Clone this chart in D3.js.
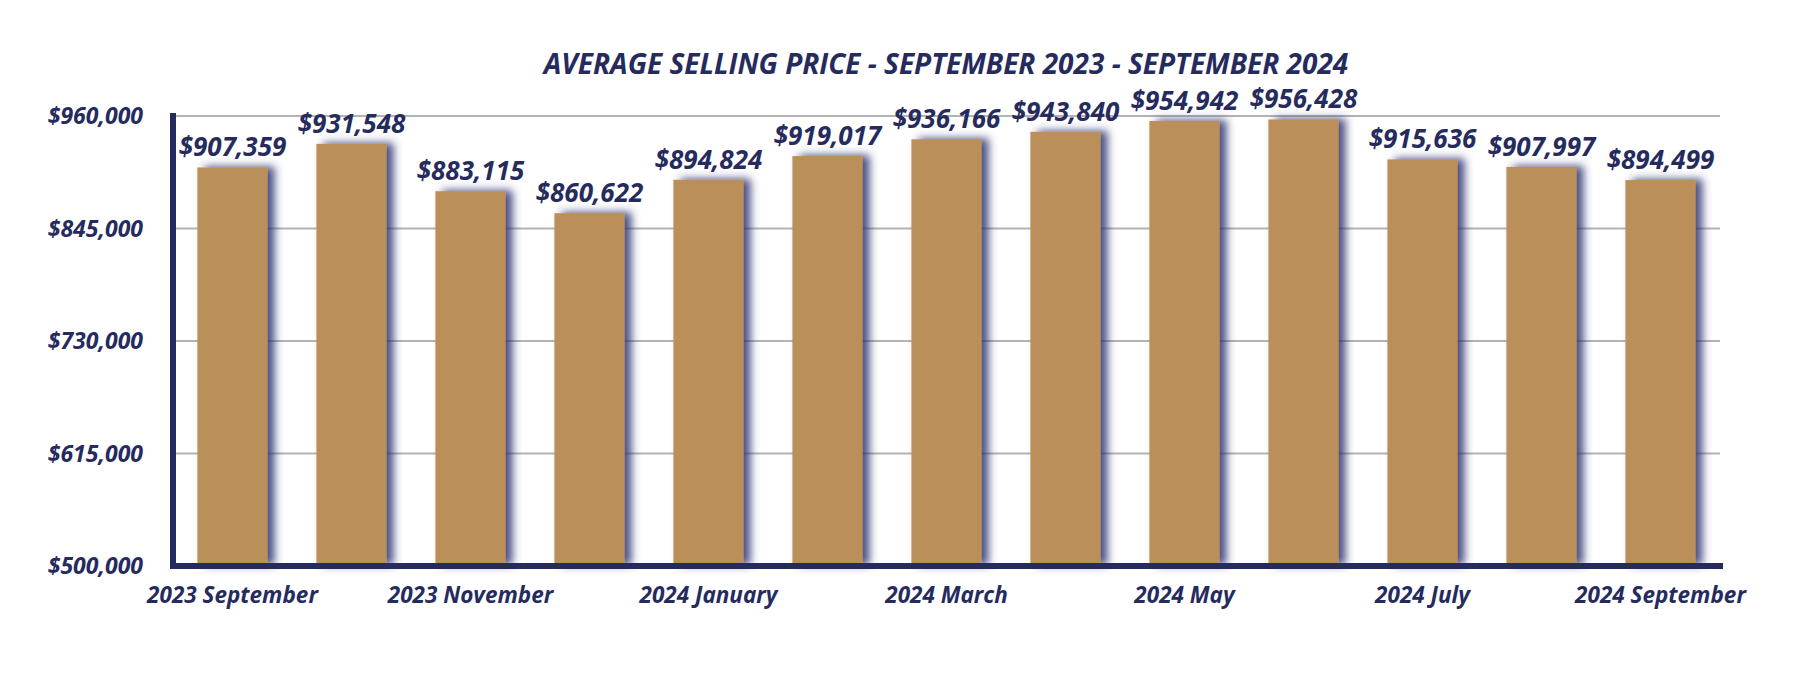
<!DOCTYPE html>
<html>
<head>
<meta charset="utf-8">
<script src="https://cdn.jsdelivr.net/npm/d3@7"></script>
<style>
  html, body { margin: 0; padding: 0; background: #ffffff; }
  svg { display: block; }
  text { font-family: "Open Sans", Lato, sans-serif; font-weight: 700; font-style: italic; fill: #262b5e; }
</style>
</head>
<body>
<script>
const title = "AVERAGE SELLING PRICE - SEPTEMBER 2023 - SEPTEMBER 2024";
const months = ["2023 September","2023 October","2023 November","2023 December","2024 January","2024 February","2024 March","2024 April","2024 May","2024 June","2024 July","2024 August","2024 September"];
const prices = [907359, 931548, 883115, 860622, 894824, 919017, 936166, 943840, 954942, 956428, 915636, 907997, 894499];
const shownMonths = ["2023 September","2023 November","2024 January","2024 March","2024 May","2024 July","2024 September"];
const yTicks = [500000, 615000, 730000, 845000, 960000];

const W = 1800, H = 674;
const navy = "#262b5e";
const barColor = "#bb8f5a";

const svg = d3.select("body").append("svg").attr("width", W).attr("height", H);

const defs = svg.append("defs");
const f = defs.append("filter").attr("id", "shadow")
  .attr("x", "-30%").attr("y", "-20%").attr("width", "160%").attr("height", "140%");
f.append("feDropShadow").attr("dx", 7).attr("dy", -1).attr("stdDeviation", 4)
  .attr("flood-color", "#2b3170").attr("flood-opacity", 0.85);

const x = d3.scaleBand().domain(months).range([173, 1720]).paddingInner(0.41).paddingOuter(0.205);
const y = d3.scaleLinear().domain([500000, 960000]).range([566, 116]);

// gridlines
svg.append("g").selectAll("line").data(yTicks.filter(d => d > 500000)).join("line")
  .attr("x1", 173).attr("x2", 1720)
  .attr("y1", d => y(d)).attr("y2", d => y(d))
  .attr("stroke", "#b3b3b3").attr("stroke-width", 2);

// bars
svg.append("g").selectAll("rect").data(months).join("rect")
  .attr("x", d => x(d))
  .attr("width", x.bandwidth())
  .attr("y", (d, i) => y(prices[i]))
  .attr("height", (d, i) => y(500000) - y(prices[i]))
  .attr("fill", barColor)
  .attr("filter", "url(#shadow)");

// axes lines
svg.append("line").attr("x1", 173).attr("x2", 173).attr("y1", 113).attr("y2", 569)
  .attr("stroke", navy).attr("stroke-width", 6);
svg.append("line").attr("x1", 170).attr("x2", 1723).attr("y1", 566).attr("y2", 566)
  .attr("stroke", navy).attr("stroke-width", 6);

// y tick labels
const fmt = d3.format("$,");
svg.append("g").selectAll("text").data(yTicks).join("text")
  .attr("x", 143).attr("y", d => y(d) + 8)
  .attr("text-anchor", "end")
  .attr("font-size", 23)
  .text(d => fmt(d));

// x labels
svg.append("g").selectAll("text").data(shownMonths).join("text")
  .attr("x", d => x(d) + x.bandwidth() / 2)
  .attr("y", 603)
  .attr("text-anchor", "middle")
  .attr("font-size", 22.5)
  .text(d => d);

// value labels
svg.append("g").selectAll("text").data(months).join("text")
  .attr("x", d => x(d) + x.bandwidth() / 2)
  .attr("y", (d, i) => y(prices[i]) - 11)
  .attr("text-anchor", "middle")
  .attr("font-size", 26)
  .text((d, i) => fmt(prices[i]));

// title
svg.append("text")
  .attr("x", 946).attr("y", 74)
  .attr("text-anchor", "middle")
  .attr("font-size", 28)
  .text(title);
</script>
</body>
</html>
